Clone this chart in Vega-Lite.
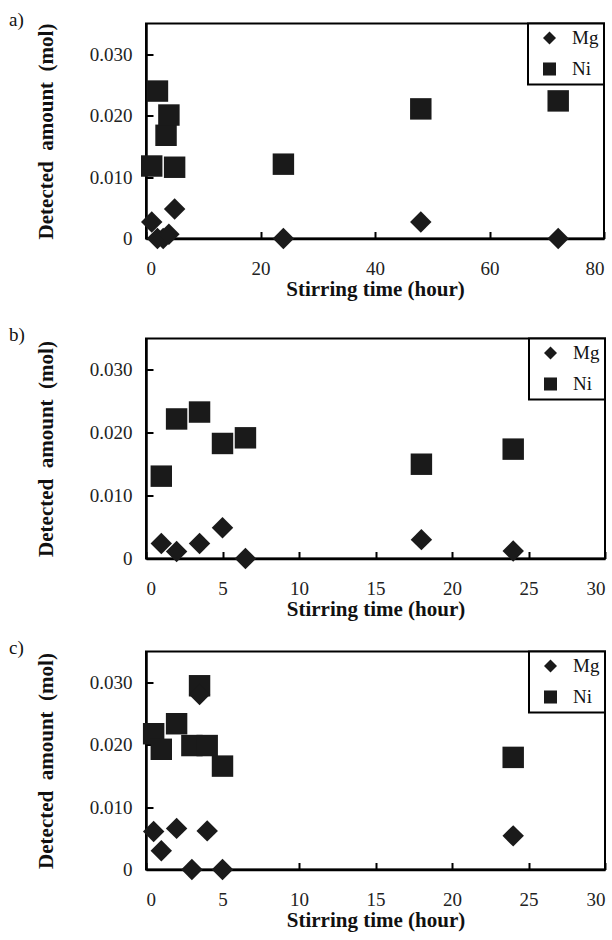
{
  "$schema": "https://vega.github.io/schema/vega-lite/v6.json",
  "padding": {"left": 8, "top": 9.5, "right": 0, "bottom": 0},
  "background": "white",
  "datasets": {
    "a": [
      {"t": 1, "amt": 0.0118, "el": "Ni"}, {"t": 2, "amt": 0.024, "el": "Ni"}, {"t": 3.5, "amt": 0.0168, "el": "Ni"}, {"t": 4, "amt": 0.0201, "el": "Ni"}, {"t": 5, "amt": 0.0116, "el": "Ni"}, {"t": 24, "amt": 0.0121, "el": "Ni"}, {"t": 48, "amt": 0.0211, "el": "Ni"}, {"t": 72, "amt": 0.0224, "el": "Ni"},
      {"t": 1, "amt": 0.0027, "el": "Mg"}, {"t": 2, "amt": 0, "el": "Mg"}, {"t": 3, "amt": 0, "el": "Mg"}, {"t": 4, "amt": 0.0007, "el": "Mg"}, {"t": 5, "amt": 0.0048, "el": "Mg"}, {"t": 24, "amt": 0, "el": "Mg"}, {"t": 48, "amt": 0.0027, "el": "Mg"}, {"t": 72, "amt": 0, "el": "Mg"}
    ],
    "b": [
      {"t": 1, "amt": 0.0131, "el": "Ni"}, {"t": 2, "amt": 0.0222, "el": "Ni"}, {"t": 3.5, "amt": 0.0233, "el": "Ni"}, {"t": 5, "amt": 0.0183, "el": "Ni"}, {"t": 6.5, "amt": 0.0192, "el": "Ni"}, {"t": 18, "amt": 0.015, "el": "Ni"}, {"t": 24, "amt": 0.0174, "el": "Ni"},
      {"t": 1, "amt": 0.0024, "el": "Mg"}, {"t": 2, "amt": 0.0011, "el": "Mg"}, {"t": 3.5, "amt": 0.0024, "el": "Mg"}, {"t": 5, "amt": 0.0049, "el": "Mg"}, {"t": 6.5, "amt": 0, "el": "Mg"}, {"t": 18, "amt": 0.003, "el": "Mg"}, {"t": 24, "amt": 0.0012, "el": "Mg"}
    ],
    "c": [
      {"t": 0.5, "amt": 0.0218, "el": "Ni"}, {"t": 1, "amt": 0.0193, "el": "Ni"}, {"t": 2, "amt": 0.0234, "el": "Ni"}, {"t": 3, "amt": 0.0199, "el": "Ni"}, {"t": 3.5, "amt": 0.0295, "el": "Ni"}, {"t": 4, "amt": 0.0199, "el": "Ni"}, {"t": 5, "amt": 0.0166, "el": "Ni"}, {"t": 24, "amt": 0.018, "el": "Ni"},
      {"t": 0.5, "amt": 0.0061, "el": "Mg"}, {"t": 1, "amt": 0.003, "el": "Mg"}, {"t": 2, "amt": 0.0066, "el": "Mg"}, {"t": 3, "amt": 0, "el": "Mg"}, {"t": 3.5, "amt": 0.0281, "el": "Mg"}, {"t": 4, "amt": 0.0062, "el": "Mg"}, {"t": 5, "amt": 0, "el": "Mg"}, {"t": 24, "amt": 0.0054, "el": "Mg"}
    ]
  },
  "config": {
    "font": "Liberation Serif",
    "view": {"stroke": "#000", "strokeWidth": 2},
    "axis": {
      "grid": false,
      "domainColor": "#000", "domainWidth": 2.5,
      "tickColor": "#000", "tickWidth": 2, "tickSize": -7,
      "labelFont": "Liberation Serif", "labelFontSize": 19, "labelColor": "#222",
      "titleFont": "Liberation Serif", "titleFontSize": 21, "titleFontWeight": "bold", "titleColor": "#111"
    },
    "axisX": {"labelPadding": 28, "titlePadding": 0},
    "axisY": {"labelPadding": 21, "titlePadding": 33},
    "legend": {
      "orient": "top-right", "offset": 0, "padding": 5,
      "strokeColor": "#000", "strokeWidth": 2, "fillColor": "#fff",
      "labelFont": "Liberation Serif", "labelFontSize": 19, "labelColor": "#111",
      "symbolSize": 170, "symbolOffset": 7, "labelOffset": 13, "rowPadding": 11,
      "symbolStrokeWidth": 0
    },
    "title": {"font": "Liberation Serif", "fontSize": 19, "fontWeight": "normal", "color": "#111", "anchor": "start", "frame": "group", "baseline": "alphabetic", "offset": 0, "dx": -137, "dy": 11.5}
  },
  "bounds": "flush",
  "spacing": 100,
  "resolve": {"scale": {"shape": "independent"}, "legend": {"shape": "independent"}},
  "vconcat": [
    {
      "width": 458, "height": 215,
      "title": {"text": "a)"},
      "data": {"name": "a"},
      "mark": {"type": "point", "filled": true, "size": 460, "opacity": 1, "color": "#1a1a1a"},
      "encoding": {
        "x": {"field": "t", "type": "quantitative", "scale": {"domain": [0, 80], "nice": false, "zero": false}, "axis": {"values": [0, 20, 40, 60, 80], "title": "Stirring time (hour)"}},
        "y": {"field": "amt", "type": "quantitative", "scale": {"domain": [0, 0.035], "nice": false}, "axis": {"values": [0, 0.01, 0.02, 0.03], "labelExpr": "datum.value == 0 ? '0' : format(datum.value, '.3f')", "title": "Detected\u00a0 amount\u00a0 (mol)"}},
        "shape": {"field": "el", "type": "nominal", "scale": {"domain": ["Mg", "Ni"], "range": ["diamond", "square"]}, "legend": {"title": null}}
      }
    },
    {
      "bounds": "flush",
      "spacing": 93,
      "resolve": {"scale": {"shape": "independent"}, "legend": {"shape": "independent"}},
      "vconcat": [
        {
          "width": 459, "height": 220,
          "title": {"text": "b)"},
          "data": {"name": "b"},
          "mark": {"type": "point", "filled": true, "size": 460, "opacity": 1, "color": "#1a1a1a"},
          "encoding": {
            "x": {"field": "t", "type": "quantitative", "scale": {"domain": [0, 30], "nice": false, "zero": false}, "axis": {"values": [0, 5, 10, 15, 20, 25, 30], "title": "Stirring time (hour)"}},
            "y": {"field": "amt", "type": "quantitative", "scale": {"domain": [0, 0.035], "nice": false}, "axis": {"values": [0, 0.01, 0.02, 0.03], "labelExpr": "datum.value == 0 ? '0' : format(datum.value, '.3f')", "title": "Detected\u00a0 amount\u00a0 (mol)"}},
            "shape": {"field": "el", "type": "nominal", "scale": {"domain": ["Mg", "Ni"], "range": ["diamond", "square"]}, "legend": {"title": null}}
          }
        },
        {
          "width": 459, "height": 218,
          "title": {"text": "c)"},
          "data": {"name": "c"},
          "mark": {"type": "point", "filled": true, "size": 460, "opacity": 1, "color": "#1a1a1a"},
          "encoding": {
            "x": {"field": "t", "type": "quantitative", "scale": {"domain": [0, 30], "nice": false, "zero": false}, "axis": {"values": [0, 5, 10, 15, 20, 25, 30], "title": "Stirring time (hour)"}},
            "y": {"field": "amt", "type": "quantitative", "scale": {"domain": [0, 0.035], "nice": false}, "axis": {"values": [0, 0.01, 0.02, 0.03], "labelExpr": "datum.value == 0 ? '0' : format(datum.value, '.3f')", "title": "Detected\u00a0 amount\u00a0 (mol)"}},
            "shape": {"field": "el", "type": "nominal", "scale": {"domain": ["Mg", "Ni"], "range": ["diamond", "square"]}, "legend": {"title": null}}
          }
        }
      ]
    }
  ]
}
